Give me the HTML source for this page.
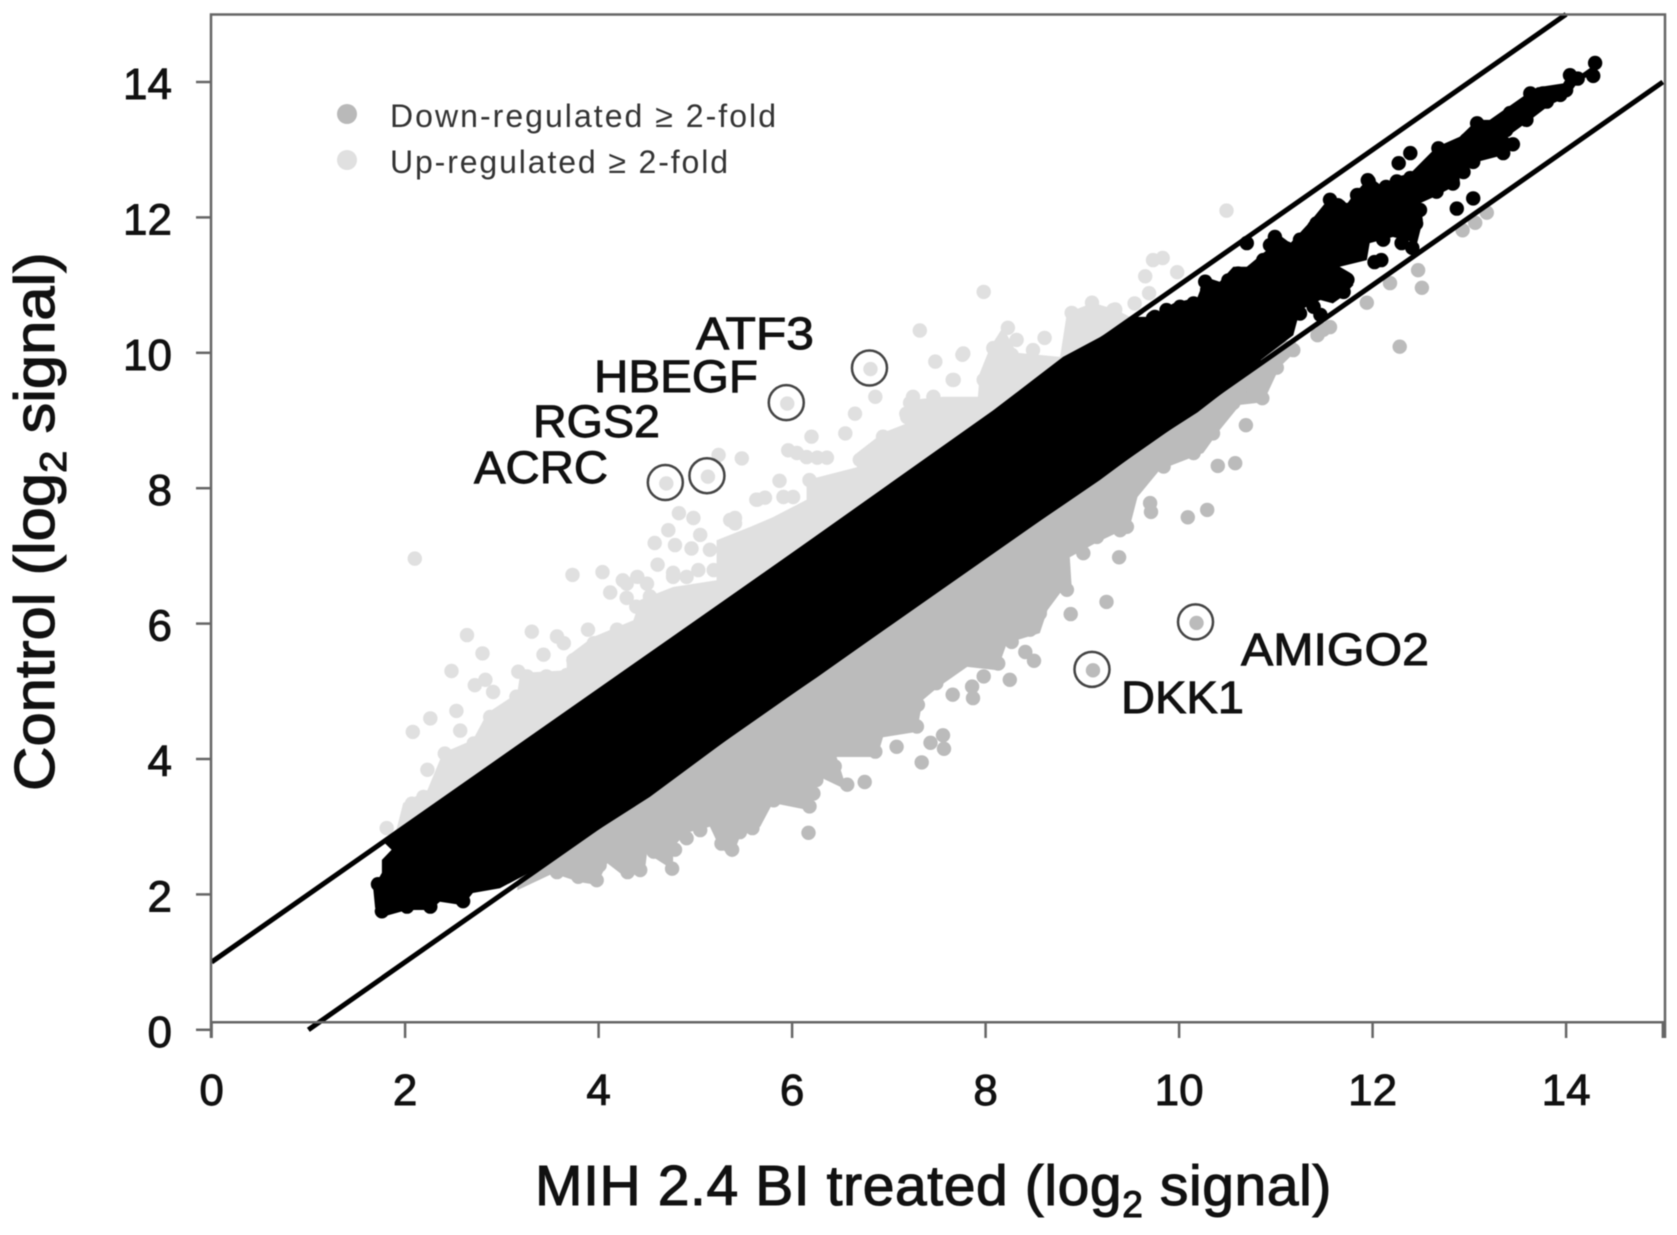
<!DOCTYPE html>
<html lang="en">
<head>
<meta charset="utf-8">
<title>Control vs MIH 2.4 BI treated scatter plot</title>
<style>
html,body{margin:0;padding:0;background:#fff;width:1677px;height:1235px;overflow:hidden}
svg{display:block;filter:blur(0.6px)}
text{font-family:"Liberation Sans",Arial,sans-serif;fill:#111}
</style>
</head>
<body>
<svg id="chart" xmlns="http://www.w3.org/2000/svg" width="1677" height="1235" viewBox="0 0 1677 1235">
  <rect x="0" y="0" width="1677" height="1235" fill="#fff"/>
  <g id="grey-bands"></g>
  <g id="grey-dots"></g>
  <g id="black-layer"></g>
  <g id="fold-lines"></g>
  <path d="M211 1038V14.5H1665V1038M211 1022.3H1665" fill="none" stroke="#666" stroke-width="2.5"/>
  <g id="ticks"></g>
  <g id="rings"></g>

  <circle cx="347" cy="114" r="10" fill="#b9b9b9"/>
  <circle cx="347" cy="160" r="10" fill="#e0e0e0"/>
  <text x="390" y="127" font-size="32" textLength="386" style="fill:#333">Down-regulated ≥ 2-fold</text>
  <text x="390" y="173" font-size="32" textLength="338" style="fill:#333">Up-regulated ≥ 2-fold</text>

  <text x="696" y="349" font-size="45" textLength="118" lengthAdjust="spacingAndGlyphs" stroke="#111" stroke-width="0.9">ATF3</text>
  <text x="594" y="392" font-size="45" textLength="164" lengthAdjust="spacingAndGlyphs" stroke="#111" stroke-width="0.9">HBEGF</text>
  <text x="533" y="437" font-size="45" textLength="127" lengthAdjust="spacingAndGlyphs" stroke="#111" stroke-width="0.9">RGS2</text>
  <text x="474" y="483" font-size="45" textLength="134" lengthAdjust="spacingAndGlyphs" stroke="#111" stroke-width="0.9">ACRC</text>
  <text x="1241" y="665" font-size="45" textLength="188" lengthAdjust="spacingAndGlyphs" stroke="#111" stroke-width="0.9">AMIGO2</text>
  <text x="1121" y="713" font-size="45" textLength="123" lengthAdjust="spacingAndGlyphs" stroke="#111" stroke-width="0.9">DKK1</text>

  <text x="535" y="1205" font-size="57" letter-spacing="0.6" stroke="#111" stroke-width="1.1">MIH 2.4 BI treated (log<tspan font-size="37" dy="12">2</tspan><tspan dy="-12"> signal)</tspan></text>
  <text transform="translate(54,791) rotate(-90) scale(1.08,1)" font-size="57" stroke="#111" stroke-width="1.1">Control (log<tspan font-size="37" dy="12">2</tspan><tspan dy="-12"> signal)</tspan></text>
</svg>
<script>
// Axis tick values
const xTickValues = [0, 2, 4, 6, 8, 10, 12, 14];
const yTickValues = [0, 2, 4, 6, 8, 10, 12, 14];
const xEndTick = [15];

// Fold-change guide lines
const upperLineX = [0, 14];
const upperLineY = [1, 15];
const lowerLineX = [1, 15];
const lowerLineY = [0, 14];

// Highlighted genes
const geneNames = ["ATF3", "HBEGF", "RGS2", "ACRC", "AMIGO2", "DKK1"];
const geneX = [6.81, 5.95, 5.13, 4.70, 10.18, 9.11];
const geneY = [9.76, 9.25, 8.17, 8.07, 6.01, 5.31];
const geneClass = ["up", "up", "up", "up", "down", "down"];

// Outline of the dense up-regulated cloud
const upBandX = [1.98,2.23,2.39,2.70,2.85,3.16,3.19,3.67,3.67,3.94,4.36,4.43,4.77,5.22,5.22,5.57,5.80,6.15,6.15,6.67,6.67,6.94,7.19,7.19,7.56,7.92,7.94,8.05,8.18,8.32,8.77,8.84,9.11,9.36,9.49,9.80,9.00,2.50,1.90];
const upBandY = [3.35,3.54,4.09,4.28,4.68,4.97,5.27,5.31,5.51,5.80,6.05,6.35,6.54,6.64,7.23,7.43,7.57,7.83,8.12,8.31,8.52,8.82,8.96,9.30,9.35,9.35,9.70,10.09,10.38,10.00,9.94,10.59,10.74,10.63,10.53,10.30,9.00,2.50,2.90];

// Outline of the dense down-regulated cloud
const downBandX = [3.16,3.53,3.81,3.98,4.09,4.29,4.48,4.50,4.77,4.77,4.91,5.15,5.25,5.38,5.46,5.67,5.80,6.15,6.29,6.57,6.46,6.88,6.94,7.29,7.35,7.50,7.81,8.12,8.22,8.56,8.64,8.77,8.89,8.87,9.15,9.49,9.57,9.80,10.25,10.42,10.63,10.87,11.04,11.22,11.20,10.50,4.00,3.16];
const downBandY = [2.06,2.31,2.18,2.14,2.46,2.24,2.36,2.61,2.36,2.70,2.91,3.00,2.70,2.55,2.85,3.00,3.35,3.25,3.73,3.54,4.03,4.03,4.32,4.40,4.87,5.05,5.36,5.31,5.71,5.86,6.20,6.45,6.54,6.98,7.20,7.43,7.87,8.27,8.52,8.86,9.23,9.27,9.79,10.04,10.20,10.00,3.50,2.20];

// Outline of the unchanged (black) cloud
const flatBandX = [1.78,1.86,1.76,1.76,1.67,1.69,1.77,2.02,2.26,2.36,2.60,2.70,2.98,3.39,4.53,5.56,6.26,7.29,8.12,8.77,9.18,9.70,10.19,10.66,10.84,11.18,11.25,11.46,11.59,11.68,11.80,11.77,11.66,11.94,11.97,12.21,12.46,12.52,12.49,12.63,12.90,12.90,13.08,13.35,13.49,13.39,13.63,13.83,14.01,14.14,14.32,14.32,14.14,14.04,13.97,13.70,13.60,13.21,13.08,12.90,12.66,12.39,12.25,12.11,11.97,11.80,11.74,11.56,11.35,11.15,11.01,10.91,10.70,10.56,10.42,10.27,10.19,9.94,9.70,9.53,9.18,8.80,8.08,4.53];
const flatBandY = [2.77,2.66,2.51,2.32,2.09,1.80,1.67,1.77,1.77,1.89,1.84,2.02,2.09,2.40,3.44,4.53,5.21,6.25,7.09,7.72,8.12,8.67,9.12,9.64,9.89,10.26,10.63,10.78,10.73,10.82,11.00,11.18,11.27,11.37,11.62,11.71,11.62,11.96,12.21,12.30,12.50,12.70,12.82,12.92,13.09,13.19,13.44,13.66,13.78,14.03,14.13,14.28,14.10,14.15,13.98,13.92,13.83,13.44,13.44,13.19,13.04,12.65,12.60,12.45,12.60,12.33,12.21,12.30,11.93,11.62,11.77,11.52,11.27,11.27,11.05,11.12,10.82,10.73,10.53,10.53,10.23,9.94,9.15,5.56];

// Individually visible up-regulated points
const upX = [7.98,7.32,7.48,6.86,6.65,6.55,6.20,5.48,5.24,5.96,6.05,6.15,6.26,6.36,5.87,4.83,4.98,4.72,4.58,4.79,4.96,5.05,10.49,9.73,9.83,9.65,9.98,9.69,9.34,9.54,9.27,2.10,3.73,4.04,2.64,2.80,2.48,2.26,2.53,2.08,2.57,2.23,1.81,3.31,3.43,3.89,2.72,2.83,2.91,3.17,5.41,4.25,4.40,4.12,4.29,4.61,4.77,5.03,4.91,5.41,5.64,5.72,5.91,7.22,7.19,7.46,7.76,7.66,8.08,8.23,8.27,8.89,9.10,9.32,8.61,
  2.07,2.19,2.41,2.50,2.60,2.71,2.88,3.01,3.15,3.26,3.46,3.67,3.57,3.64,3.74,3.95,4.19,4.39,4.53,4.77,5.15,5.19,4.29,4.50,5.36,5.63,6.01,6.18,6.70,6.94,7.25,7.18,7.67,7.77,8.32,8.49,8.97,7.98,8.25,8.46];
const upY = [10.90,10.33,9.87,9.35,9.10,8.81,8.76,8.44,8.49,8.56,8.52,8.46,8.45,8.45,8.11,7.63,7.56,7.38,7.19,7.16,7.11,7.31,12.10,11.37,11.40,11.13,11.19,10.88,10.64,10.73,10.41,6.96,6.72,6.76,5.83,5.56,5.30,4.60,4.71,4.40,4.42,3.84,2.98,5.88,5.54,5.91,5.09,5.17,4.99,5.29,7.48,6.64,6.69,6.46,6.38,6.87,6.75,6.79,6.69,7.56,7.83,7.86,7.87,9.26,9.05,9.35,9.97,9.60,10.07,10.37,9.97,10.59,10.74,10.63,10.22,
  3.34,3.44,4.08,3.98,3.84,4.23,4.62,4.62,4.92,5.22,5.22,5.24,5.81,5.71,5.46,5.71,5.91,6.25,6.40,6.69,7.09,6.79,6.59,6.59,7.53,7.83,7.87,8.12,8.42,8.76,9.35,9.10,9.60,9.99,10.19,10.04,10.48,9.60,9.55,9.89];

// Individually visible down-regulated points
const downX = [6.17,7.34,6.75,7.08,7.56,7.43,7.57,7.66,7.87,8.25,4.76,5.38,4.91,5.59,5.46,6.57,8.41,8.50,8.46,4.30,4.43,3.79,3.98,3.57,4.01,8.88,9.25,9.38,10.09,10.29,9.70,9.71,10.40,10.58,10.69,10.86,12.28,12.51,12.47,12.18,11.94,11.49,11.56,11.43,13.18,13.06,12.93,11.18,11.01,10.87,10.76,10.56,
  4.29,4.57,4.79,5.05,5.29,5.27,5.63,5.81,6.18,6.22,6.25,6.44,6.86,7.29,7.30,7.49,7.86,7.98,8.13,7.96,8.11,8.27,8.56,8.84,9.01,8.87,9.15,9.39,9.46,9.84,10.01,10.15,10.35,10.77];
const downY = [2.91,3.95,3.66,4.18,4.35,4.24,4.15,4.95,4.90,5.17,2.38,2.66,2.83,2.98,2.92,3.62,5.58,5.45,5.91,2.33,2.36,2.26,2.21,2.33,2.43,6.14,6.32,6.98,7.57,7.68,7.78,7.65,8.33,8.37,8.93,9.33,10.09,10.96,11.22,11.03,10.74,10.34,10.38,10.26,12.07,11.92,11.81,10.04,9.78,9.64,9.45,9.26,
  2.56,2.63,2.66,2.95,2.90,2.75,3.35,3.39,3.30,3.49,3.69,3.89,4.11,4.48,4.80,5.12,5.07,5.22,5.41,5.49,5.71,5.73,6.15,6.50,7.04,7.14,7.28,7.38,7.43,8.32,8.52,8.52,8.81,9.45];

// Individually visible unchanged points
const flatX = [12.39,12.27,13.04,12.87,12.02,12.09,12.30,12.41,13.45,13.35,14.30,14.28,14.04,14.12,13.08,12.68,11.95,11.84,11.56,11.64,11.42,10.99,10.94,10.70,10.27,10.29,9.75,11.74,11.46,13.04,1.76,1.80,2.02,2.26,2.60,1.72,
  9.73,9.87,10.01,10.15,10.32,10.37,10.51,10.61,10.73,10.87,11.11,11.25,11.40,11.66,11.75,11.85,11.96,12.14,12.25,12.39,12.58,12.70,12.80,12.97,13.28,13.42,13.63,13.76,13.94,
  12.94,12.83,12.66,12.49,12.45,12.11,11.73,11.70,11.39,11.25,11.11,10.77,13.38,13.59,13.80,14.00];
const flatY = [12.95,12.80,12.28,12.13,11.34,11.37,11.62,11.55,13.08,12.95,14.28,14.09,14.10,14.05,13.39,13.02,12.55,12.33,12.26,12.18,11.91,11.71,11.59,11.62,11.05,10.93,10.53,11.08,10.56,12.82,1.75,1.95,1.82,1.82,1.90,2.15,
  10.51,10.63,10.68,10.73,10.95,10.85,11.07,11.17,11.17,11.37,11.54,11.67,11.86,12.16,12.11,12.33,12.53,12.45,12.53,12.58,12.77,12.97,12.92,13.14,13.36,13.54,13.83,13.83,13.81,
  12.67,12.50,12.38,12.11,11.91,11.67,11.07,10.90,10.68,10.58,10.43,9.89,13.29,13.44,13.71,13.88];

const NS = "http://www.w3.org/2000/svg";
const colorUp = "#e0e0e0";
const colorDown = "#bbbbbb";
const colorFlat = "#000000";
function sx(v){ return 211.6 + v * 96.75; }
function sy(v){ return 1029.8 - v * 67.7; }
function make(tag){ return document.createElementNS(NS, tag); }

function drawBand(xs, ys, color, name, parent){
  const el = make("polygon");
  
  
  el.setAttribute("points", xs.map(function(v, i){ return sx(v).toFixed(1) + "," + sy(ys[i]).toFixed(1); }).join(" "));
  el.setAttribute("fill", color);
  parent.appendChild(el);
}
function drawDots(xs, ys, color, name, parent){
  xs.forEach(function(v, i){
    const el = make("circle");
    
    
    el.setAttribute("cx", sx(v).toFixed(1));
    el.setAttribute("cy", sy(ys[i]).toFixed(1));
    el.setAttribute("r", "7.2");
    el.setAttribute("fill", color);
    parent.appendChild(el);
  });
}
function drawLine(xs, ys, name){
  const el = make("line");
  
  
  el.setAttribute("x1", sx(xs[0]));
  el.setAttribute("y1", sy(ys[0]));
  el.setAttribute("x2", sx(xs[1]));
  el.setAttribute("y2", sy(ys[1]));
  el.setAttribute("stroke", "#000");
  el.setAttribute("stroke-width", "5");
  document.getElementById("fold-lines").appendChild(el);
}

const greyBands = document.getElementById("grey-bands");
const greyDots = document.getElementById("grey-dots");
const blackLayer = document.getElementById("black-layer");
drawBand(upBandX, upBandY, colorUp, "up-regulated-cloud", greyBands);
drawBand(downBandX, downBandY, colorDown, "down-regulated-cloud", greyBands);
drawDots(upX, upY, colorUp, "up-regulated-point", greyDots);
drawDots(downX, downY, colorDown, "down-regulated-point", greyDots);
drawBand(flatBandX, flatBandY, colorFlat, "unchanged-cloud", blackLayer);
drawDots(flatX, flatY, colorFlat, "unchanged-point", blackLayer);
drawLine(upperLineX, upperLineY, "upper-two-fold-line");
drawLine(lowerLineX, lowerLineY, "lower-two-fold-line");

// Axis ticks and labels
const ticksLayer = document.getElementById("ticks");
xTickValues.concat(xEndTick).forEach(function(v){
  const t = make("line");
  
  
  t.setAttribute("x1", sx(v));
  t.setAttribute("x2", sx(v));
  t.setAttribute("y1", 1022);
  t.setAttribute("y2", 1038);
  t.setAttribute("stroke", "#666");
  t.setAttribute("stroke-width", "2.5");
  ticksLayer.appendChild(t);
});
xTickValues.forEach(function(v){
  const l = make("text");
  
  
  l.setAttribute("x", sx(v));
  l.setAttribute("y", 1105);
  l.setAttribute("font-size", "44");
  l.setAttribute("text-anchor", "middle");
  l.setAttribute("stroke", "#111");
  l.setAttribute("stroke-width", "0.9");
  l.textContent = String(v);
  ticksLayer.appendChild(l);
});
yTickValues.forEach(function(v){
  const t = make("line");
  
  
  t.setAttribute("x1", 196);
  t.setAttribute("x2", 211);
  t.setAttribute("y1", sy(v));
  t.setAttribute("y2", sy(v));
  t.setAttribute("stroke", "#666");
  t.setAttribute("stroke-width", "2.5");
  ticksLayer.appendChild(t);
  const l = make("text");
  
  
  l.setAttribute("x", 172);
  l.setAttribute("y", sy(v) + 17);
  l.setAttribute("font-size", "44");
  l.setAttribute("text-anchor", "end");
  l.setAttribute("stroke", "#111");
  l.setAttribute("stroke-width", "0.9");
  l.textContent = String(v);
  ticksLayer.appendChild(l);
});

// Highlighted gene rings with their inner points
const ringsLayer = document.getElementById("rings");
geneNames.forEach(function(name, i){
  const d = make("circle");
  
  
  d.setAttribute("cx", sx(geneX[i]));
  d.setAttribute("cy", sy(geneY[i]));
  d.setAttribute("r", "7.2");
  d.setAttribute("fill", geneClass[i] === "up" ? colorUp : colorDown);
  ringsLayer.appendChild(d);
  const c = make("circle");
  
  
  c.setAttribute("cx", sx(geneX[i]) - 1);
  c.setAttribute("cy", sy(geneY[i]) - 1);
  c.setAttribute("r", "17.5");
  c.setAttribute("fill", "none");
  c.setAttribute("stroke", "#444");
  c.setAttribute("stroke-width", "2.5");
  ringsLayer.appendChild(c);
});
</script>
</body>
</html>
